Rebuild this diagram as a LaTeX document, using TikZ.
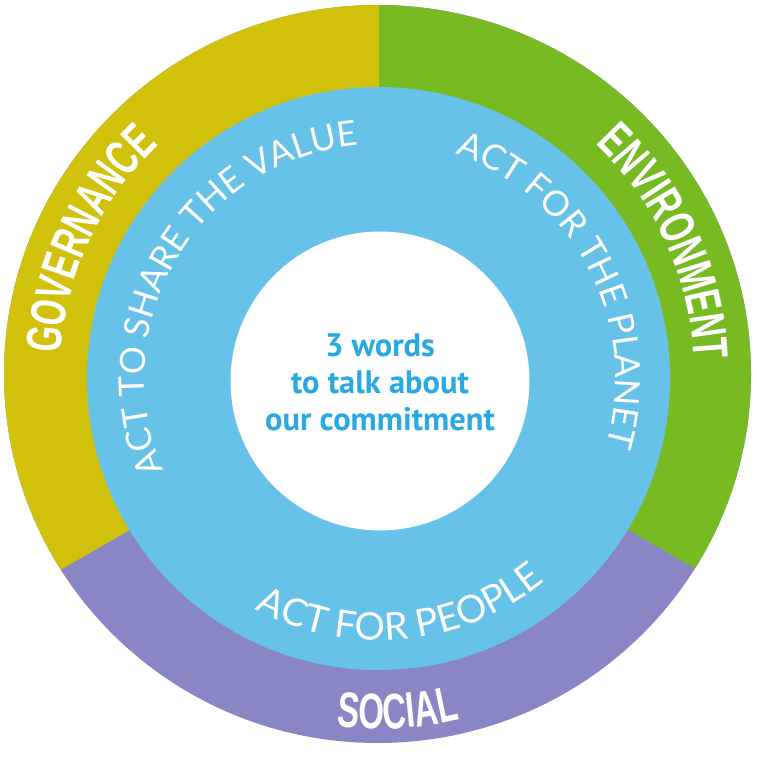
\documentclass[tikz,border=0pt]{standalone}
\usepackage{fontspec}
\usetikzlibrary{decorations.text}
\newfontfamily\ringfont{Liberation Sans}[FakeStretch=0.66]
\newfontfamily\arcfont{Lato}
\newfontfamily\centrefont{PT Sans}
\definecolor{govcol}{HTML}{D2C10A}
\definecolor{envcol}{HTML}{77BA22}
\definecolor{soccol}{HTML}{8986C6}
\definecolor{bluecol}{HTML}{66C2E8}
\definecolor{centretxt}{HTML}{29A9E1}
\tikzset{
  ringlabel/.style={decorate, decoration={text along path, text align=center, text color=white,
     text={|\ringfont\bfseries\fontsize{50}{50}\selectfont|#1}}},
  arclabel/.style 2 args={decorate, decoration={text along path, text align=center, text color=white,
     text={|\arcfont\fontsize{#1}{#1}\selectfont|#2}}}
}
\begin{document}
\begin{tikzpicture}[x=1pt,y=1pt]
\useasboundingbox (0,0) rectangle (757,757);
\coordinate (O) at (377.5,383);
\coordinate (B) at (378.5,378.5);
\coordinate (W) at (380,376);
\coordinate (S) at (379,371);
% outer ring sectors
\begin{scope}
  \clip (O) ellipse [x radius=373.5pt, y radius=369pt];
  \fill[soccol] (-10,-10) rectangle (767,767);
  \fill[govcol] (S) -- (-227,21) -- (-227,800) -- (379,800) -- cycle;
  \fill[envcol] (S) -- (379,800) -- (985,800) -- (985,21) -- cycle;
\end{scope}
% blue ring and white centre
\fill[bluecol] (B) circle [radius=291.5pt];
\fill[white] (W) circle [radius=149.5pt];
% ring labels
\path[ringlabel=GOVERNANCE] (O) ++(215:317pt) arc[start angle=215, end angle=95, radius=317pt];
\path[ringlabel=ENVIRONMENT] (O) ++(84.6:317pt) arc[start angle=84.6, end angle=-35.4, radius=317pt];
\path[ringlabel=SOCIAL] (O) ++(213.4:355pt) arc[start angle=213.4, end angle=333.4, radius=355pt];
% inner labels
\path[arclabel={35}{ACT TO SHARE THE VALUE}] (B) ++(224:234pt) arc[start angle=224, end angle=74, radius=234pt];
\path[arclabel={35}{ACT FOR THE PLANET}] (B) ++(102.4:237pt) arc[start angle=102.4, end angle=-47.6, radius=237pt];
\path[arclabel={38}{ACT FOR PEOPLE}] (B) ++(200.6:262pt) arc[start angle=200.6, end angle=350.6, radius=262pt];
% centre text
\node[align=center, text=centretxt, font=\centrefont\bfseries\fontsize{32.5}{37}\selectfont] (centre) at (380,375) {3 words\\to talk about\\our commitment};
\end{tikzpicture}
\end{document}
